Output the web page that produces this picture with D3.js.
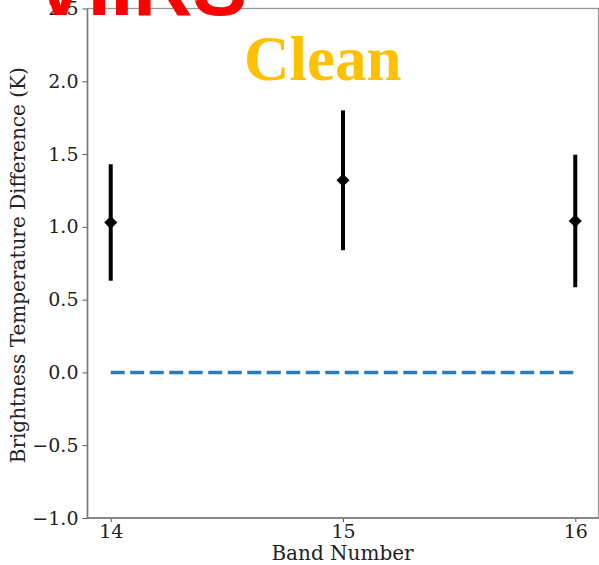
<!DOCTYPE html>
<html>
<head>
<meta charset="utf-8">
<script src="https://cdn.jsdelivr.net/npm/d3@7"></script>
<style>
  html, body { margin: 0; padding: 0; background: #fff; }
  svg { display: block; }
</style>
</head>
<body>
<svg id="chart" width="599" height="565"></svg>
<script>
// ---- data ----
const bands = [14, 15, 16];
const meanDiff = [1.03, 1.32, 1.04];
const errDiff = [0.40, 0.48, 0.455];
const refLine = [0, 0];
const yTicks = [-1.0, -0.5, 0.0, 0.5, 1.0, 1.5, 2.0, 2.5];
const xTicks = [14, 15, 16];
const xLabel = "Band Number";
const yLabel = "Brightness Temperature Difference (K)";
const title1 = "VIIRS";
const title2 = "Clean";

// ---- layout ----
const svg = d3.select("#chart");
const pL = 87.5, pR = 598.5, pT = 8.5, pB = 518;
const x = d3.scaleLinear().domain([13.9, 16.1]).range([pL, pR]);
const y = d3.scaleLinear().domain([-1, 2.5]).range([pB, pT]);
const serif = "'DejaVu Serif', serif";

// axes
const yAxis = svg.append("g").attr("transform", `translate(${pL},0)`)
  .call(d3.axisLeft(y).tickValues(yTicks).tickSize(5).tickPadding(4)
    .tickFormat(d => d3.format(".1f")(d).replace("-", "\u2212")));
const xAxis = svg.append("g").attr("transform", `translate(0,${pB})`)
  .call(d3.axisBottom(x).tickValues(xTicks).tickSize(4).tickPadding(3)
    .tickFormat(d3.format("d")));
[yAxis, xAxis].forEach(g => {
  g.select(".domain").remove();
  g.selectAll("line").attr("stroke", "#555").attr("stroke-width", 1);
  g.selectAll("text").attr("font-family", serif).attr("font-size", 19).attr("fill", "#222");
});

// spines
svg.append("rect").attr("x", pL).attr("y", pT)
  .attr("width", pR - pL).attr("height", pB - pT)
  .attr("fill", "none").attr("stroke", "#999").attr("stroke-width", 1.3);
svg.append("line").attr("x1", pL).attr("x2", pL).attr("y1", pT).attr("y2", pB)
  .attr("stroke", "#777").attr("stroke-width", 1.5);
svg.append("line").attr("x1", pL).attr("x2", pR).attr("y1", pB).attr("y2", pB)
  .attr("stroke", "#777").attr("stroke-width", 1.5);

// reference dashed line at zero
svg.append("line")
  .attr("x1", x(bands[0])).attr("x2", x(bands[bands.length - 1]))
  .attr("y1", y(refLine[0])).attr("y2", y(refLine[1]))
  .attr("stroke", "#2b7bba").attr("stroke-width", 3.5)
  .attr("stroke-dasharray", "14,5.5");

// error bars
const pts = bands.map((b, i) => ({ b, m: meanDiff[i], e: errDiff[i] }));
svg.append("g").selectAll("line").data(pts).join("line")
  .attr("x1", d => x(d.b)).attr("x2", d => x(d.b))
  .attr("y1", d => y(d.m - d.e)).attr("y2", d => y(d.m + d.e))
  .attr("stroke", "#000").attr("stroke-width", 4);
svg.append("g").selectAll("path").data(pts).join("path")
  .attr("d", d3.symbol(d3.symbolSquare, 85))
  .attr("transform", d => `translate(${x(d.b)},${y(d.m)}) rotate(45)`)
  .attr("fill", "#000");

// axis labels
svg.append("text").attr("x", (pL + pR) / 2 - 0.5).attr("y", 560)
  .attr("text-anchor", "middle").attr("font-family", serif).attr("font-size", 20)
  .attr("fill", "#222").text(xLabel);
svg.append("text").attr("transform", `translate(25,${(pT + pB) / 2 + 2}) rotate(-90)`)
  .attr("text-anchor", "middle").attr("font-family", serif).attr("font-size", 20)
  .attr("fill", "#222").text(yLabel);

// titles
svg.append("text").attr("x", 33).attr("y", 15)
  .attr("font-family", "'Liberation Sans', Arial, sans-serif").attr("font-weight", "bold")
  .attr("font-size", 82).attr("fill", "#ff0000").text(title1);
svg.append("text").attr("x", 244).attr("y", 80)
  .attr("font-family", "'Liberation Serif', 'Times New Roman', serif").attr("font-weight", "bold")
  .attr("font-size", 63).attr("fill", "#ffc000").text(title2);
</script>
</body>
</html>
